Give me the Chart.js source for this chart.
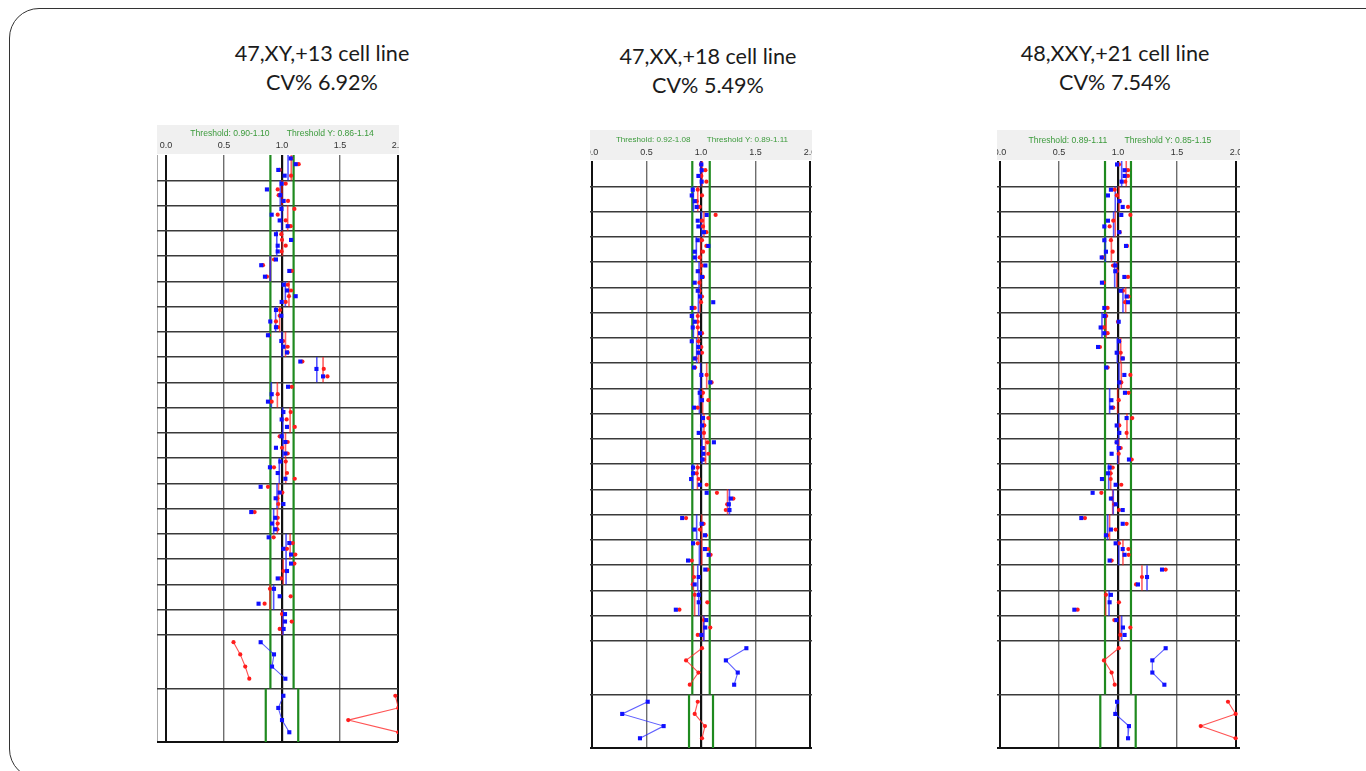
<!DOCTYPE html>
<html>
<head>
<meta charset="utf-8">
<title>Aneuploidy cell lines</title>
<script src="https://cdn.jsdelivr.net/npm/chart.js@4.4.1/dist/chart.umd.min.js"></script>
<style>
  html, body { margin: 0; padding: 0; background: #fff; width: 1366px; height: 771px; overflow: hidden; position: relative; }
  .frame { position: absolute; left: 9px; top: 8px; width: 1500px; height: 771px; border: 1.5px solid #333; border-radius: 30px; box-sizing: border-box; }
  .ttl { position: absolute; transform: translateX(-50%); text-align: center; white-space: nowrap;
         font-family: Lato, "Open Sans", sans-serif; font-size: 21.6px; line-height: 29.5px; color: #1b1b1b; }
  canvas { position: absolute; }
</style>
</head>
<body>
<div class="frame"></div>
<canvas id="c1" width="242" height="619" style="left:157px;top:125px"></canvas>
<canvas id="c2" width="222" height="620" style="left:590px;top:130px"></canvas>
<canvas id="c3" width="243" height="620" style="left:997px;top:130px"></canvas>
<script>
// ---- titles ----
const cellLines = ['47,XY,+13 cell line', '47,XX,+18 cell line', '48,XXY,+21 cell line'];
const cvLabels = ['CV% 6.92%', 'CV% 5.49%', 'CV% 7.54%'];

// ---- thresholds ----
const p1Threshold = [0.90, 1.10], p1ThresholdY = [0.86, 1.14];
const p2Threshold = [0.92, 1.08], p2ThresholdY = [0.89, 1.11];
const p3Threshold = [0.89, 1.11], p3ThresholdY = [0.85, 1.15];

// ---- x axis tick values ----
const xTicks = [0, 0.5, 1.0, 1.5, 2.0];

// ---- ratios per row (19 autosome rows, then X row, then Y row) ----
const p1Blue = [
  [1.075,1.118,0.968,1.023],[0.997,0.870,0.986,1.014],[0.995,0.911,0.980,1.049],[0.948,1.078,0.963,0.963],
  [0.948,0.821,1.063,0.853],[1.014,1.043,1.118,0.997],[0.948,0.994,0.899,0.948],[0.879,0.994,1.012,1.043],
  [1.158,1.297,1.354],[1.052,0.911,0.879],[1.012,0.997,1.043],[0.997,1.029,0.948,1.029],
  [0.986,0.896,0.963,1.029],[0.816,0.980,0.945,1.012],[0.735,0.942,0.914,0.942],[0.885,1.063,1.012,1.078],
  [1.078,1.043,0.963],[0.931,0.980,0.798],[1.026,1.026,1.014],
  [0.816,0.931,0.914,1.029],[1.012,0.968,1.000,1.063]
];
const p1Red = [
  [1.080,1.144,0.980,1.078],[1.032,0.963,0.971,1.052],[1.107,0.963,1.032,1.075],[0.994,1.000,1.032,0.997],
  [0.931,0.836,1.084,0.870],[1.049,1.078,1.060,1.032],[0.983,0.980,0.948,0.963],[0.885,1.010,1.049,1.049],
  [1.176,1.360,1.392],[1.084,0.963,0.911],[1.075,1.040,1.110],[0.980,1.049,1.000,1.049],
  [1.032,0.931,1.043,1.110],[0.879,1.003,0.960,0.968],[0.764,0.963,0.963,0.960],[0.928,1.092,1.043,1.115],
  [1.107,1.012,0.990],[0.896,1.075,0.850],[1.000,1.084,0.980],
  [0.582,0.640,0.683,0.718],[1.977,2.003,1.571,2.003]
];
const p1BlueMid = [1.052,0.985,0.997,0.955,0.899,1.029,0.945,1.000,1.300,0.908,1.006,1.006,0.977,0.957,0.928,1.035,1.035,0.928,1.009];
const p1RedMid  = [1.080,1.000,1.049,1.003,0.900,1.060,0.980,1.030,1.354,0.960,1.070,1.030,1.032,0.970,0.960,1.070,1.010,0.896,1.003];

const p2Blue = [
  [1.003,1.006,0.976,1.006],[0.924,0.915,0.942,0.960],[1.052,0.970,0.976,1.027],[0.970,1.067,0.942,0.942],
  [1.040,0.970,1.009,0.942],[0.970,0.991,1.112,0.915],[0.915,0.942,0.924,0.991],[0.915,0.976,0.976,0.942],
  [0.936,1.003,1.085],[0.988,1.009,0.936],[1.018,1.009,0.979],[1.118,1.015,1.021,1.012],
  [0.927,0.927,0.909,0.988],[1.052,1.273,1.255,1.261],[0.827,1.006,0.939,1.036],[0.927,1.036,1.070,0.881],
  [1.039,0.979,0.942],[0.979,0.979,0.769],[1.048,1.039,1.003],
  [1.416,1.228,1.337,1.304],[0.511,0.277,0.657,0.440]
];
const p2Red = [
  [1.000,1.040,1.003,1.049],[0.970,1.009,0.960,0.988],[1.134,1.009,1.018,1.049],[1.009,1.049,1.018,0.988],
  [1.009,0.985,1.018,0.985],[0.988,1.009,1.000,0.942],[0.970,0.970,0.970,1.009],[0.976,1.003,1.009,0.951],
  [0.945,1.052,1.097],[1.018,1.067,0.970],[1.067,1.030,1.027],[1.060,1.021,1.067,1.027],
  [0.970,0.960,0.979,1.052],[1.146,1.297,1.240,1.227],[0.863,1.024,0.990,1.045],[0.970,1.064,1.088,0.915],
  [1.061,0.936,0.924],[0.942,1.058,0.802],[1.027,1.085,0.970],
  [1.009,0.863,0.976,0.897],[0.970,0.942,1.036,1.009]
];
const p2BlueMid = [0.997,0.930,1.003,0.957,0.982,0.976,0.930,0.960,0.997,0.985,1.003,1.009,0.924,1.261,0.960,0.985,0.970,0.979,1.027];
const p2RedMid  = [1.010,0.970,1.027,0.997,0.997,0.991,0.970,0.979,1.052,1.015,1.027,1.042,0.967,1.243,1.006,1.006,0.930,0.942,1.021];

const p3Blue = [
  [0.992,1.056,1.056,1.031],[0.940,0.915,1.011,1.040],[1.028,0.915,0.884,1.011],[0.884,1.068,0.898,0.862],
  [0.977,0.977,1.054,0.864],[1.023,1.073,1.085,0.884],[0.885,1.006,0.853,0.884],[1.008,0.831,0.989,1.040],
  [0.901,1.054,1.011],[1.059,0.944,0.944],[1.073,0.989,1.011],[0.989,1.006,0.946,1.093],
  [0.929,0.915,0.864,0.980],[0.785,0.940,0.980,1.040],[0.689,1.040,0.940,0.898],[0.980,1.040,1.056,0.929],
  [1.373,1.246,1.169],[0.940,0.929,0.630],[0.986,1.042,1.056],
  [1.404,1.291,1.291,1.393],[0.992,0.977,1.093,1.085]
];
const p3Red = [
  [1.008,1.085,1.085,1.062],[0.972,0.990,1.014,1.085],[1.105,0.960,0.929,1.014],[0.940,1.076,0.955,0.870],
  [0.958,0.990,1.085,0.879],[1.042,1.090,1.060,0.912],[0.900,1.000,0.879,0.912],[1.010,0.847,1.023,1.040],
  [0.912,1.105,1.028],[1.090,1.006,0.960],[1.121,1.011,1.073],[0.990,1.023,1.006,1.116],
  [0.955,0.938,0.938,1.028],[0.859,0.946,0.970,1.008],[0.720,1.073,0.980,0.910],[1.008,1.088,1.090,0.946],
  [1.404,1.203,1.153],[0.898,1.008,0.658],[0.969,1.105,1.020],
  [1.006,0.881,0.946,0.972],[1.932,1.997,1.701,1.997]
];
const p3BlueMid = [1.031,0.977,0.963,0.893,0.972,1.042,0.864,0.994,1.008,0.929,1.006,0.997,0.921,0.960,0.912,1.006,1.246,0.924,1.031];
const p3RedMid  = [1.070,1.008,0.977,0.944,0.990,1.065,0.900,1.023,1.028,0.997,1.076,1.006,0.938,0.955,0.929,1.042,1.203,0.895,1.014];

// ---- row layout: 19 standard rows, two taller sex-chromosome rows ----
const SMALL_ROWS = 19;
const TALL = 2.12;
const bounds = [0];
for (let i = 0; i < SMALL_ROWS; i++) bounds.push(bounds[bounds.length - 1] + 1);
bounds.push(bounds[bounds.length - 1] + TALL);
bounds.push(bounds[bounds.length - 1] + TALL);
const Y_MAX = bounds[bounds.length - 1];
const X_ROW = SMALL_ROWS, Y_ROW = SMALL_ROWS + 1;

function rowPoints(vals, i) {
  const top = bounds[i], h = bounds[i + 1] - top, n = vals.length;
  const out = [];
  vals.forEach((v, j) => { if (v != null) out.push({ x: v, y: top + h * (j + 0.6) / (n + 0.4) }); });
  return out;
}
function allPoints(rows) {
  return rows.reduce((acc, vals, i) => acc.concat(rowPoints(vals, i)), []);
}
function sexLines(rows) {
  return rowPoints(rows[X_ROW], X_ROW).concat([{ x: null, y: null }], rowPoints(rows[Y_ROW], Y_ROW));
}
function midSegments(mids) {
  const out = [];
  mids.forEach((m, i) => {
    if (m == null) return;
    out.push({ x: m, y: bounds[i] }, { x: m, y: bounds[i + 1] }, { x: null, y: null });
  });
  return out;
}
function thresholdSegments(t, tY) {
  return [
    { x: t[0], y: 0 }, { x: t[0], y: bounds[Y_ROW] }, { x: null, y: null },
    { x: t[1], y: 0 }, { x: t[1], y: bounds[Y_ROW] }, { x: null, y: null },
    { x: tY[0], y: bounds[Y_ROW] }, { x: tY[0], y: Y_MAX }, { x: null, y: null },
    { x: tY[1], y: bounds[Y_ROW] }, { x: tY[1], y: Y_MAX }
  ];
}
const fmt = v => v.toFixed(2);
function thresholdText(t, tY) {
  return 'Threshold: ' + fmt(t[0]) + '-' + fmt(t[1]) + '\u2003\u2003Threshold Y: ' + fmt(tY[0]) + '-' + fmt(tY[1]);
}

const BLUE = '#1010ff', RED = '#ff1c1c', GREEN = '#1f8a1f';

const headerBg = {
  id: 'headerBg',
  beforeDraw(chart, args, opts) {
    const { ctx, chartArea } = chart;
    ctx.save();
    ctx.fillStyle = '#f0f0f0';
    ctx.fillRect(0, 0, chart.width, chartArea.top - 1);
    if (opts.edge) {
      ctx.strokeStyle = '#a8a8a8';
      ctx.lineWidth = 1;
      ctx.beginPath();
      ctx.moveTo(0.5, chartArea.top);
      ctx.lineTo(0.5, chartArea.bottom + 1);
      ctx.stroke();
    }
    ctx.restore();
  }
};

function noPad(s) { s.paddingLeft = 0; s.paddingRight = 0; s.paddingTop = 0; s.paddingBottom = 0; }

function makePanel(id, cfg) {
  const datasets = [
    { data: allPoints(cfg.blue), pointStyle: 'rect', pointRadius: 2.9, pointBorderWidth: 0,
      backgroundColor: BLUE, borderColor: BLUE, showLine: false, order: 0 },
    { data: allPoints(cfg.red), pointStyle: 'circle', pointRadius: 2.1, pointBorderWidth: 0,
      backgroundColor: RED, borderColor: RED, showLine: false, order: 1 },
    { data: sexLines(cfg.blue), showLine: true, pointRadius: 0, borderColor: 'rgba(40,40,255,0.75)',
      borderWidth: 1.1, order: 2 },
    { data: sexLines(cfg.red), showLine: true, pointRadius: 0, borderColor: 'rgba(255,40,40,0.8)',
      borderWidth: 1.1, order: 3 },
    { data: midSegments(cfg.blueMid), showLine: true, pointRadius: 0, borderColor: 'rgba(30,30,255,0.75)',
      borderWidth: 1.6, order: 4 },
    { data: midSegments(cfg.redMid), showLine: true, pointRadius: 0, borderColor: 'rgba(255,30,30,0.7)',
      borderWidth: 1.6, order: 5 },
    { data: thresholdSegments(cfg.t, cfg.tY), showLine: true, pointRadius: 0, borderColor: GREEN,
      borderWidth: 2.2, order: 6 }
  ];
  return new Chart(document.getElementById(id), {
    type: 'scatter',
    data: { datasets },
    plugins: [headerBg],
    options: {
      responsive: false,
      animation: false,
      events: [],
      layout: { autoPadding: false, padding: { left: 0, top: 0, right: cfg.padR, bottom: 2 } },
      plugins: { legend: { display: false }, tooltip: { enabled: false }, headerBg: { edge: cfg.edge } },
      scales: {
        x: {
          type: 'linear', position: 'top', min: 0, max: cfg.xMax,
          afterBuildTicks: s => { s.ticks = xTicks.map(v => ({ value: v })); },
          afterFit: s => { s.height = cfg.headH; noPad(s); },
          ticks: { padding: cfg.labelPad, color: '#333', autoSkip: false, maxRotation: 0,
                   font: { family: 'Liberation Sans', size: 9 },
                   callback: v => Number(v).toFixed(1) },
          grid: {
            drawTicks: false,
            color: c => (c.tick && (c.tick.value === 0.5 || c.tick.value === 1.5)) ? '#6e6e6e' : '#111',
            lineWidth: c => {
              const v = c.tick ? c.tick.value : 0;
              return v === 1 ? 2.2 : (v === 0.5 || v === 1.5) ? 1.4 : 2;
            }
          },
          border: { display: false },
          title: { display: true, text: thresholdText(cfg.t, cfg.tY), color: '#3b9a3b',
                   font: { family: 'Liberation Sans', size: cfg.titleSize }, padding: { top: cfg.titlePad, bottom: 0 } }
        },
        y: {
          type: 'linear', reverse: true, min: 0, max: Y_MAX,
          afterBuildTicks: s => { s.ticks = bounds.map(v => ({ value: v })); },
          afterFit: s => { s.width = cfg.yW; noPad(s); },
          ticks: { display: false },
          grid: {
            drawTicks: true, tickLength: cfg.yW,
            color: c => c.index === 0 ? 'rgba(0,0,0,0)' : (c.index === bounds.length - 1 ? '#111' : '#3a3a3a'),
            lineWidth: c => c.index === bounds.length - 1 ? 2 : 1.5
          },
          border: { display: false }
        }
      }
    }
  });
}

// titles
const titlePos = [[322, 38.5], [708, 41.5], [1115, 38.5]];
titlePos.forEach((p, i) => {
  const d = document.createElement('div');
  d.className = 'ttl';
  d.style.left = p[0] + 'px';
  d.style.top = p[1] + 'px';
  d.innerHTML = cellLines[i] + '<br>' + cvLabels[i];
  document.body.appendChild(d);
});

makePanel('c1', { blue: p1Blue, red: p1Red, blueMid: p1BlueMid, redMid: p1RedMid, t: p1Threshold, tY: p1ThresholdY,
  xMax: 2.0, padR: 1, yW: 9, headH: 30, labelPad: 4, titlePad: 3, titleSize: 8.6, edge: true });
makePanel('c2', { blue: p2Blue, red: p2Red, blueMid: p2BlueMid, redMid: p2RedMid, t: p2Threshold, tY: p2ThresholdY,
  xMax: 2.018, padR: 0, yW: 2, headH: 31, labelPad: 3, titlePad: 5, titleSize: 8.1, edge: false });
makePanel('c3', { blue: p3Blue, red: p3Red, blueMid: p3BlueMid, redMid: p3RedMid, t: p3Threshold, tY: p3ThresholdY,
  xMax: 2.034, padR: 0, yW: 3, headH: 31, labelPad: 3, titlePad: 5, titleSize: 8.6, edge: false });
</script>
</body>
</html>
